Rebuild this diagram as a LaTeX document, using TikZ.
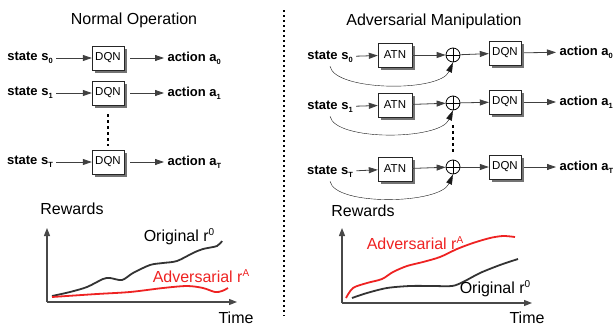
\documentclass[tikz,border=0pt]{standalone}
\usepackage{fontspec}
\setmainfont{Liberation Sans}
\usetikzlibrary{arrows.meta,shadows}

\definecolor{advred}{HTML}{EE2222}
\definecolor{axisgray}{HTML}{484848}
\definecolor{origgray}{HTML}{333333}

% small dropped index and raised index as in the slide
\newcommand{\idx}[1]{\raisebox{-3pt}{\fontsize{7.5}{8}\selectfont #1}}
\newcommand{\upidx}[1]{\raisebox{6pt}{\fontsize{10}{10}\selectfont #1}}

\tikzset{
  netbox/.style={draw=black!85,fill=white,minimum width=32pt,minimum height=24pt,inner sep=0pt,
    font=\fontsize{11.5}{12}\selectfont,
    drop shadow={shadow xshift=2.5pt,shadow yshift=-2.5pt,fill=black!55,opacity=1}},
  lbl/.style={font=\fontsize{13}{14}\selectfont\bfseries},
  plotlbl/.style={font=\fontsize{16}{18}\selectfont},
  flow/.style={-{Triangle[length=9pt,width=6pt]},thick,black!75},
  loopback/.style={-{Triangle[length=10pt,width=6pt]},black!90},
  sumnode/.style={circle,draw,thick,minimum size=14pt,inner sep=0pt,
    path picture={\draw[thick] (path picture bounding box.north) -- (path picture bounding box.south)
      (path picture bounding box.west) -- (path picture bounding box.east);}},
  gapline/.style={line width=1.6pt,dash pattern=on 3pt off 3pt},
  axis/.style={-{Triangle[length=8pt,width=6pt]},line width=1.3pt,axisgray},
}

\begin{document}
\begin{tikzpicture}[x=1pt,y=-1pt]
    \useasboundingbox (0,0) rectangle (616,327);

    % Titles
    \node[plotlbl] (ttlnorm) at (134,20) {Normal Operation};
    \node[plotlbl] (ttladv) at (434,21) {Adversarial Manipulation};

    % Separator between the two halves
    \coordinate (septop) at (284,10);
    \coordinate (sepbot) at (284,316);
    \draw[line width=1.3pt,dash pattern=on 2pt off 3pt] (septop) -- (sepbot);

    % Normal operation: state -> DQN -> action
    \node[lbl] (ls0) at (30,58) {state s\idx{0}};
    \node[netbox] (ldqn0) at (108,58) {DQN};
    \node[lbl,anchor=west] (la0) at (164,58) {action a\idx{0}};
    \draw[flow] (ls0) -- (ldqn0);
    \draw[flow,shorten <=6pt] (ldqn0) -- (la0);

    \node[lbl] (ls1) at (30,93) {state s\idx{1}};
    \node[netbox] (ldqn1) at (108,93) {DQN};
    \node[lbl,anchor=west] (la1) at (164,93) {action a\idx{1}};
    \draw[flow] (ls1) -- (ldqn1);
    \draw[flow,shorten <=6pt] (ldqn1) -- (la1);

    \node[lbl] (lsT) at (30,162) {state s\idx{T}};
    \node[netbox] (ldqnT) at (108,162) {DQN};
    \node[lbl,anchor=west] (laT) at (164,162) {action a\idx{T}};
    \draw[flow] (lsT) -- (ldqnT);
    \draw[flow,shorten <=6pt] (ldqnT) -- (laT);

    \draw[gapline,shorten <=9pt,shorten >=4pt] (ldqn1) -- (ldqnT);

    % Adversarial manipulation: state -> ATN -> (+) -> DQN -> action
    \node[lbl] (rs0) at (330,57) {state s\idx{0}};
    \node[netbox,minimum width=34pt] (atn0) at (395,55) {ATN};
    \node[sumnode] (sum0) at (453,55) {};
    \node[netbox] (rdqn0) at (505,53) {DQN};
    \node[lbl,anchor=west] (ra0) at (556,52) {action a\idx{0}};
    \draw[flow] (rs0) -- (atn0);
    \draw[flow] (atn0) -- (sum0);
    \draw[flow] (sum0) -- (rdqn0);
    \draw[flow,shorten <=3pt] (rdqn0) -- (ra0);
    \draw[loopback] (rs0.south) .. controls +(5,25) and +(-13,30) .. (sum0.south);

    \node[lbl] (rs1) at (330,107) {state s\idx{1}};
    \node[netbox,minimum width=34pt] (atn1) at (395,105) {ATN};
    \node[sumnode] (sum1) at (453,103) {};
    \node[netbox] (rdqn1) at (505,102) {DQN};
    \node[lbl,anchor=west] (ra1) at (556,102) {action a\idx{1}};
    \draw[flow] (rs1) -- (atn1);
    \draw[flow] (atn1) -- (sum1);
    \draw[flow] (sum1) -- (rdqn1);
    \draw[flow,shorten <=3pt] (rdqn1) -- (ra1);
    \draw[loopback] (rs1.south) .. controls +(5,25) and +(-13,30) .. (sum1.south);

    \node[lbl] (rsT) at (330,172) {state s\idx{T}};
    \node[netbox,minimum width=34pt] (atnT) at (395,169) {ATN};
    \node[sumnode] (sumT) at (453,167) {};
    \node[netbox] (rdqnT) at (505,167) {DQN};
    \node[lbl,anchor=west] (raT) at (556,167) {action a\idx{T}};
    \draw[flow] (rsT) -- (atnT);
    \draw[flow] (atnT) -- (sumT);
    \draw[flow] (sumT) -- (rdqnT);
    \draw[flow,shorten <=3pt] (rdqnT) -- (raT);
    \draw[loopback] (rsT.south) .. controls +(5,25) and +(-13,30) .. (sumT.south);

    \draw[gapline,shorten <=15pt,shorten >=5pt] (sum1) -- (sumT);

    % Rewards under normal operation
    \node[plotlbl] (lrew) at (72,209) {Rewards};
    \coordinate (lorig) at (47,302);
    \coordinate (lytop) at (47,228);
    \coordinate (lxend) at (237,302);
    \draw[axis] (lorig) -- (lytop);
    \draw[axis] (lorig) -- (lxend);
    \node[plotlbl] (ltime) at (236,318) {Time};
    \draw[origgray,line width=1.8pt] plot[smooth] coordinates {(52,296) (70,292) (87,287) (103,279) (110,278) (122,280) (133,273) (150,265) (163,263) (177,261) (193,253) (203,249) (217,246) (222,241)};
    \draw[advred,line width=1.8pt] plot[smooth] coordinates {(52,297) (97,294) (130,292) (163,288) (187,286) (203,288) (215,292) (222,291) (228,288)};
    \node[plotlbl] (lorlbl) at (179,237) {Original r\upidx{0}};
    \node[plotlbl,advred] (ladlbl) at (201,276) {Adversarial r\upidx{A}};

    % Rewards under adversarial manipulation
    \node[plotlbl] (rrew) at (363,211) {Rewards};
    \coordinate (rorig) at (342,303);
    \coordinate (rytop) at (342,228);
    \coordinate (rxend) at (532,303);
    \draw[axis] (rorig) -- (rytop);
    \draw[axis] (rorig) -- (rxend);
    \node[plotlbl] (rtime) at (527,318) {Time};
    \draw[advred,line width=1.8pt] plot[smooth] coordinates {(346,298) (353,288) (367,283) (382,279) (393,272) (407,266) (423,262) (440,257) (457,249) (473,243) (490,238) (503,236) (515,237)};
    \draw[origgray,line width=1.8pt] plot[smooth] coordinates {(352,298) (367,293) (387,288) (410,286) (433,286) (452,286) (463,282) (480,273) (500,265) (518,259)};
    \node[plotlbl,advred] (radlbl) at (415,243) {Adversarial r\upidx{A}};
    \node[plotlbl] (rorlbl) at (495,289) {Original r\upidx{0}};
\end{tikzpicture}
\end{document}
